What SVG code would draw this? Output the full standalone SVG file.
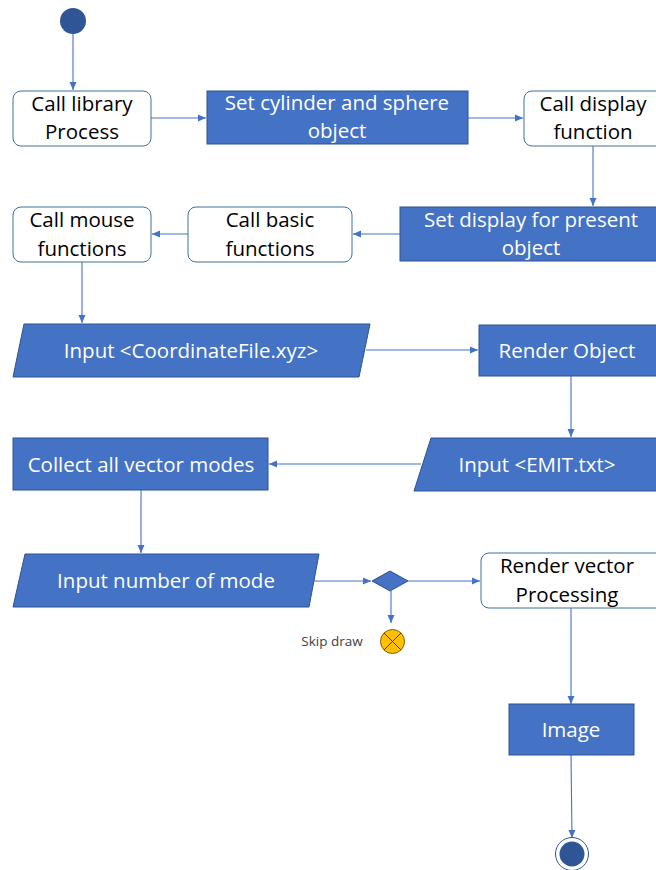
<svg xmlns="http://www.w3.org/2000/svg" width="656" height="870" viewBox="0 0 656 870">
  <style>
    .act { fill: #4472C4; stroke: #2F528F; stroke-width: 1; }
    .proc { fill: #FFFFFF; stroke: #41719C; stroke-width: 1; }
    .wt { fill: #FFFFFF; font-family: "Open Sans", "Liberation Sans", sans-serif; font-size: 20.5px; text-anchor: middle; }
    .bt { fill: #000000; font-family: "Open Sans", "Liberation Sans", sans-serif; font-size: 20.5px; text-anchor: middle; }
    .edge { fill: none; stroke: #4472C4; stroke-width: 1.1; marker-end: url(#arrow); }
  </style>
  <defs>
    <marker id="arrow" viewBox="0 0 8 8" refX="8" refY="4" markerWidth="8" markerHeight="8" markerUnits="userSpaceOnUse" orient="auto">
      <path d="M0,0.5 L8,4 L0,7.5 Z" fill="#4472C4"/>
    </marker>
  </defs>
  <rect width="656" height="870" fill="#FFFFFF"/>

  <g id="connectors">
    <line class="edge" x1="73" y1="34" x2="73" y2="90"/>
    <line class="edge" x1="151" y1="118" x2="206" y2="118"/>
    <line class="edge" x1="468" y1="118" x2="523" y2="118"/>
    <line class="edge" x1="593" y1="146" x2="593" y2="206"/>
    <line class="edge" x1="400" y1="234" x2="353" y2="234"/>
    <line class="edge" x1="188" y1="234" x2="152" y2="234"/>
    <line class="edge" x1="82" y1="262" x2="82" y2="323"/>
    <line class="edge" x1="366" y1="350" x2="478" y2="350"/>
    <line class="edge" x1="571" y1="376" x2="571" y2="437"/>
    <line class="edge" x1="421" y1="464" x2="269" y2="464"/>
    <line class="edge" x1="141" y1="490" x2="141" y2="553"/>
    <line class="edge" x1="314" y1="581" x2="371" y2="581"/>
    <line class="edge" x1="408" y1="581" x2="480" y2="581"/>
    <line class="edge" x1="391" y1="591" x2="391" y2="623"/>
    <line class="edge" x1="571" y1="608" x2="571" y2="704"/>
    <line class="edge" x1="571" y1="755" x2="572" y2="838"/>
  </g>

  <g id="start">
    <circle cx="73" cy="21" r="13" fill="#2F5597"/>
  </g>

  <g id="call-library">
    <rect class="proc" x="13" y="91" width="138" height="55" rx="8"/>
    <text class="bt" x="82" y="111">Call library</text>
    <text class="bt" x="82" y="139">Process</text>
  </g>

  <g id="set-cylinder">
    <rect class="act" x="207" y="91" width="261" height="53"/>
    <text class="wt" x="337" y="110">Set cylinder and sphere</text>
    <text class="wt" x="337" y="138">object</text>
  </g>

  <g id="call-display">
    <rect class="proc" x="524" y="91" width="146" height="55" rx="8"/>
    <text class="bt" x="593" y="111">Call display</text>
    <text class="bt" x="593" y="139">function</text>
  </g>

  <g id="set-display">
    <rect class="act" x="400" y="207" width="270" height="54"/>
    <text class="wt" x="531" y="227">Set display for present</text>
    <text class="wt" x="531" y="255">object</text>
  </g>

  <g id="call-basic">
    <rect class="proc" x="188" y="207" width="164" height="55" rx="8"/>
    <text class="bt" x="270" y="227">Call basic</text>
    <text class="bt" x="270" y="256">functions</text>
  </g>

  <g id="call-mouse">
    <rect class="proc" x="13" y="207" width="138" height="55" rx="8"/>
    <text class="bt" x="82" y="227">Call mouse</text>
    <text class="bt" x="82" y="256">functions</text>
  </g>

  <g id="input-coordinates">
    <polygon class="act" points="24,324 370,324 359,377 13,377"/>
    <text class="wt" x="191" y="358">Input &lt;CoordinateFile.xyz&gt;</text>
  </g>

  <g id="render-object">
    <rect class="act" x="479" y="325" width="191" height="51"/>
    <text class="wt" x="567" y="358">Render Object</text>
  </g>

  <g id="input-emit">
    <polygon class="act" points="431,438 670,438 665,491 414,491"/>
    <text class="wt" x="537" y="472">Input &lt;EMIT.txt&gt;</text>
  </g>

  <g id="collect-modes">
    <rect class="act" x="13" y="438" width="255" height="52"/>
    <text class="wt" x="141" y="472">Collect all vector modes</text>
  </g>

  <g id="input-mode">
    <polygon class="act" points="25,554 319,554 309,607 13,607"/>
    <text class="wt" x="166" y="588">Input number of mode</text>
  </g>

  <g id="decision">
    <polygon points="372,581 390,571 408,581 390,591" fill="#4472C4" stroke="#2F528F" stroke-width="1"/>
  </g>

  <g id="render-vector">
    <rect class="proc" x="481" y="553" width="189" height="55" rx="8"/>
    <text class="bt" x="567" y="573">Render vector</text>
    <text class="bt" x="567" y="602">Processing</text>
  </g>

  <g id="skip-draw">
    <circle cx="392.5" cy="641.5" r="12" fill="#FFC000" stroke="#7F6000" stroke-width="1"/>
    <path d="M384,633 L401,650 M401,633 L384,650" stroke="#3A3A3A" stroke-width="1"/>
    <text x="332" y="646" font-family="'Open Sans', 'Liberation Sans', sans-serif" font-size="13.5px" fill="#404040" text-anchor="middle">Skip draw</text>
  </g>

  <g id="image">
    <rect class="act" x="509" y="704" width="125" height="51"/>
    <text class="wt" x="571" y="737">Image</text>
  </g>

  <g id="end">
    <circle cx="572" cy="854" r="16.5" fill="#FFFFFF" stroke="#2F5597" stroke-width="1"/>
    <circle cx="572" cy="854" r="12.5" fill="#2F5597"/>
  </g>
</svg>
